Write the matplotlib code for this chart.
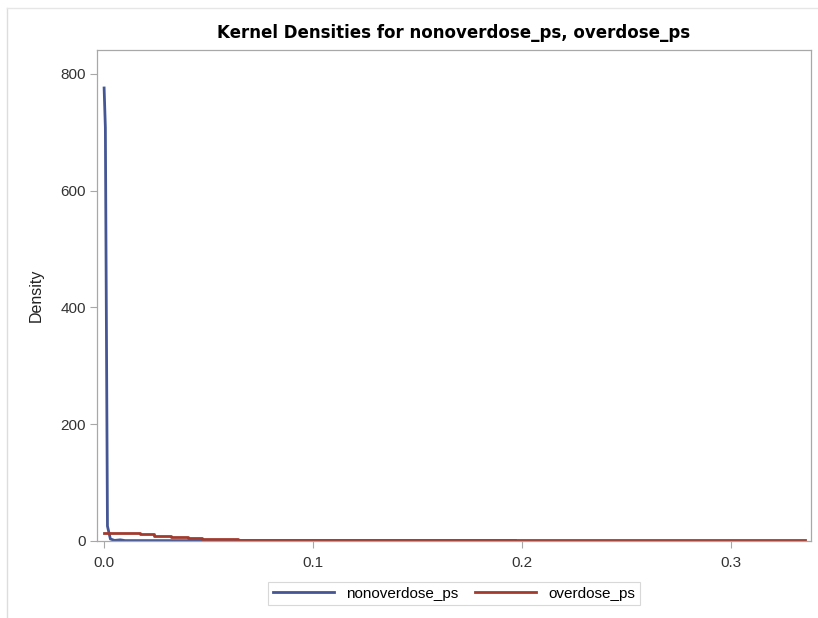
import matplotlib
matplotlib.use('Agg')
import matplotlib.pyplot as plt
from matplotlib.lines import Line2D

plt.rcParams['font.family'] = ['Liberation Sans', 'DejaVu Sans']

# kernel density estimates
non_x = [0.0, 0.0006, 0.0016, 0.003, 0.005, 0.0077, 0.010, 0.05, 0.1, 0.15, 0.197]
non_y = [776, 708, 25, 3, 0.5, 1.5, 0.2, 0.1, 0.1, 0.1, 0.1]

od_x = [0.0, 0.017, 0.024, 0.032, 0.040, 0.047, 0.064, 0.1, 0.2, 0.3356]
od_y = [13, 11, 8.5, 6.5, 4.5, 2.8, 0.5, 0.4, 0.4, 0.4]

xticks = [0.0, 0.1, 0.2, 0.3]
yticks = [0, 200, 400, 600, 800]

blue = '#445694'
red = '#a23a2e'

fig = plt.figure(figsize=(8.18, 6.18), dpi=100)
ax = fig.add_axes([0.1186, 0.1246, 0.8728, 0.7944])

ax.plot(non_x, non_y, color=blue, lw=2, label='nonoverdose_ps')
ax.plot(od_x, od_y, color=red, lw=2, drawstyle='steps-post', label='overdose_ps')

ax.set_xlim(-0.0034, 0.3385)
ax.set_ylim(-0.5, 841)
ax.set_xticks(xticks)
ax.set_xticklabels(['0.0', '0.1', '0.2', '0.3'])
ax.set_yticks(yticks)
for s in ax.spines.values():
    s.set_color('#a8a8a8')
    s.set_linewidth(0.9)
ax.tick_params(colors='#a8a8a8', labelcolor='#333333', labelsize=11, length=5)
ax.tick_params(axis='x', pad=6)
ax.tick_params(axis='y', pad=3)

ax.set_ylabel('Density', fontsize=11.5, color='#222222', labelpad=12)
ax.set_title('Kernel Densities for nonoverdose_ps, overdose_ps', fontsize=12,
             fontweight='bold', family='DejaVu Sans', pad=9)

leg = ax.legend(loc='upper center', bbox_to_anchor=(0.5, -0.068), ncol=2,
                frameon=True, fancybox=False, fontsize=11, handlelength=4.0,
                columnspacing=1.1, borderpad=0.3, handletextpad=0.8)
leg.get_frame().set_edgecolor('#cfcfcf')
leg.get_frame().set_linewidth(0.8)

# faint outer frame of the original image
fig.add_artist(Line2D([0.009, 0.009], [0.0, 0.987], transform=fig.transFigure,
                      color='#dddddd', lw=1))
fig.add_artist(Line2D([0.009, 1.0], [0.987, 0.987], transform=fig.transFigure,
                      color='#e6e6e6', lw=1))

fig.savefig('out.png', dpi=100, facecolor='white')
